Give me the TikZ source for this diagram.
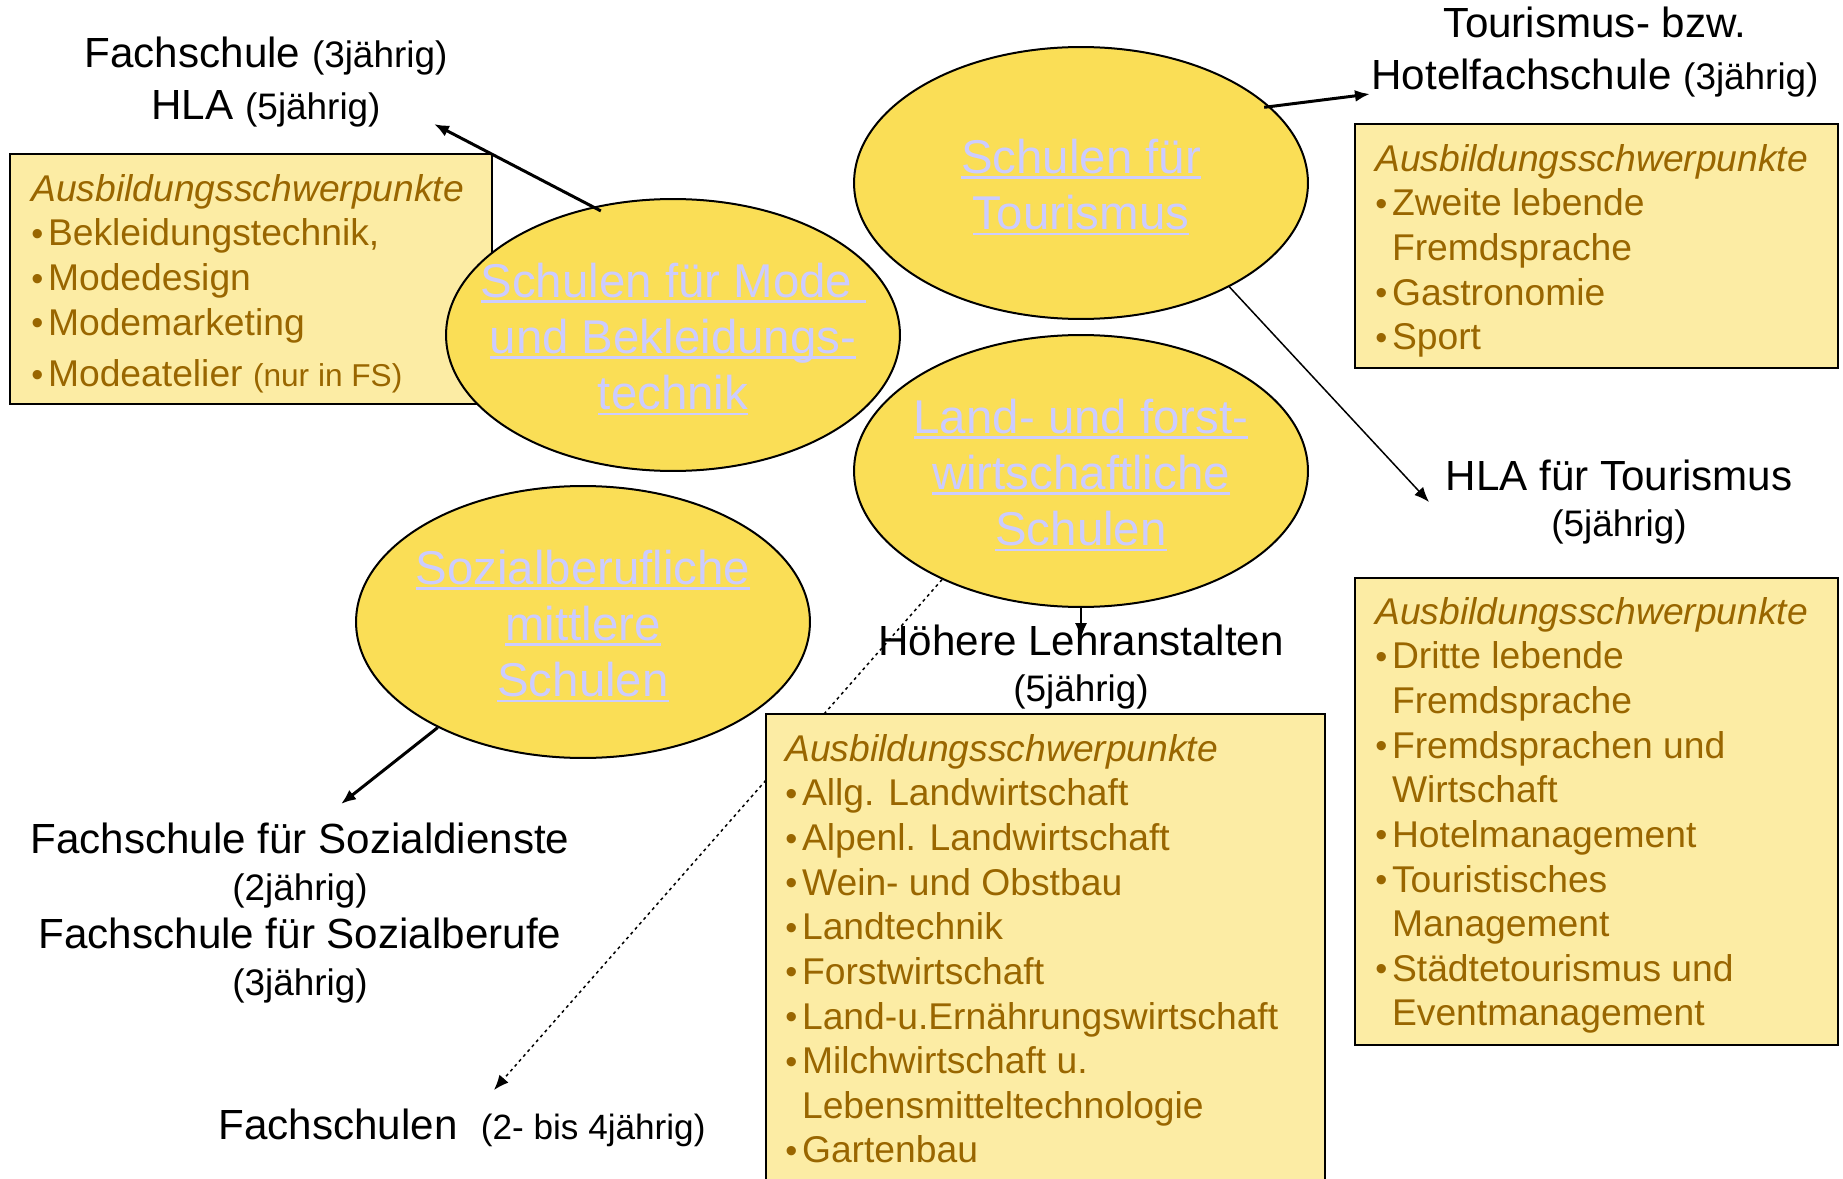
\documentclass[tikz,border=0pt]{standalone}
\usepackage{fontspec}
\setmainfont{Liberation Sans}
\usepackage{xcolor}
\usepackage{graphicx}
\usepackage{tikz}
\usetikzlibrary{shapes,arrows.meta,calc}

\definecolor{ellYellow}{RGB}{250,222,86}
\definecolor{boxYellow}{RGB}{252,236,164}
\definecolor{txtBrown}{RGB}{153,102,0}
\definecolor{linkLav}{RGB}{204,204,255}

\newcommand\pkt{\makebox[9.5pt][l]{\raisebox{0.3pt}{\scalebox{0.92}{\textbullet}}}}
\newcommand\fort{\hspace*{9.5pt}}
\newcommand\lnk[1]{\setbox0\hbox{#1}\rlap{\rule[-0.12em]{\wd0}{0.055em}}\box0}
\newcommand\klein{\fontsize{21}{26}\selectfont}
\newcommand\kleiner{\fontsize{18}{22}\selectfont}

\tikzstyle{tsLabel} = [
    text=black,
    font=\fontsize{24}{29.6}\selectfont,
    align=center,
    inner sep=0pt
]
\tikzstyle{tsLink} = [
    text=linkLav,
    font=\fontsize{27}{32}\selectfont,
    align=center,
    inner sep=0pt
]
\tikzstyle{tsEllipse} = [
    ellipse,
    draw=black,
    line width=0.4mm,
    fill=ellYellow,
    minimum width=9.08cm,
    minimum height=5.44cm
]
\tikzstyle{tsRectangle} = [
    rectangle,
    draw=black,
    line width=0.4mm,
    fill=boxYellow,
    anchor=north west
]
\tikzstyle{tsList} = [
    text=txtBrown,
    font=\fontsize{21.2}{25.4}\selectfont,
    align=left,
    anchor=north west,
    inner sep=0pt
]
\tikzstyle{tsArrow} = [
    line width=0.6mm,
    -{Latex[length=3mm,width=2.4mm]}
]

\begin{document}
\begin{tikzpicture}[x=0.02cm, y=-0.02cm]

    \useasboundingbox (0,0) rectangle (1843,1179);

    % Mode
    \node[  tsRectangle,
            minimum width=9.64cm,
            minimum height=5cm] (boxMode) at (9,153) {};
    \node[tsList] (listMode) at (31,174) {\textit{Ausbildungsschwerpunkte}\\\pkt Bekleidungstechnik,\\\pkt Modedesign\\\pkt Modemarketing\\[4pt]\pkt Modeatelier {\kleiner(nur in FS)}};

    \node[tsEllipse] (mode) at (673,335) {};
    \node[tsLink] (modeText) at (673,339) {\lnk{Schulen für Mode\ }\\\lnk{und Bekleidungs-}\\\lnk{technik}};

    % Tourismus
    \node[tsEllipse] (tour) at (1081,183) {};
    \node[tsLink] (tourText) at (1081,187) {\lnk{Schulen für}\\\lnk{Tourismus}};

    \node[  tsRectangle,
            minimum width=9.66cm,
            minimum height=4.88cm] (boxTour) at (1354,123) {};
    \node[tsList] (listTour) at (1375,144) {\textit{Ausbildungsschwerpunkte}\\\pkt Zweite lebende\\\fort Fremdsprache\\\pkt Gastronomie\\\pkt Sport};

    \node[  tsRectangle,
            minimum width=9.66cm,
            minimum height=9.34cm] (boxHla) at (1354,577) {};
    \node[tsList] (listHla) at (1375,597) {\textit{Ausbildungsschwerpunkte}\\\pkt Dritte lebende\\\fort Fremdsprache\\\pkt Fremdsprachen und\\\fort Wirtschaft\\\pkt Hotelmanagement\\\pkt Touristisches\\\fort Management\\\pkt Städtetourismus und\\\fort Eventmanagement};

    % Land- und Forstwirtschaft
    \node[tsEllipse] (land) at (1081,471) {};
    \node[tsLink] (landText) at (1081,475) {\lnk{Land- und forst-}\\\lnk{wirtschaftliche}\\\lnk{Schulen}};

    % Sozialberufe
    \node[tsEllipse] (sozial) at (583,622) {};
    \node[tsLink] (sozialText) at (583,626) {\lnk{Sozialberufliche}\\\lnk{mittlere}\\\lnk{Schulen}};

    % Abschluesse
    \node[tsLabel] (fsMode) at (266,82) {Fachschule {\klein(3jährig)}\\HLA {\klein(5jährig)}};
    \node[tsLabel] (hotel) at (1595,52) {Tourismus- bzw.\\Hotelfachschule {\klein(3jährig)}};
    \node[tsLabel] (hlaTour) at (1619,502) {HLA für Tourismus\\[-3pt]{\klein(5jährig)}};
    \node[tsLabel] (hoehere) at (1081,667) {Höhere Lehranstalten\\[-3pt]{\klein(5jährig)}};
    \node[tsLabel] (fsSozial) at (300,913) {Fachschule für Sozialdienste\\[-3pt]{\klein(2jährig)}\\[-2pt]Fachschule für Sozialberufe\\[-3pt]{\klein(3jährig)}};
    \node[tsLabel] (fachschulen) at (462,1128) {Fachschulen\ \ {\fontsize{20}{24}\selectfont(2- bis 4jährig)}};

    \coordinate (tipMode) at (434,124);
    \coordinate (tipHotel) at (1370,94);
    \coordinate (tipHla) at (1429,502);
    \coordinate (tipHoehere) at (1081,638);
    \coordinate (tipSozial) at (341,804);
    \coordinate (tipFach) at (494,1090);

    \draw[tsArrow, dotted, line width=0.3mm] (land.-142) -- (tipFach);

    \node[  tsRectangle,
            minimum width=11.18cm,
            minimum height=9.8cm] (boxLand) at (765,713) {};
    \node[tsList] (listLand) at (785,734) {\textit{Ausbildungsschwerpunkte}\\\pkt Allg. Landwirtschaft\\\pkt Alpenl. Landwirtschaft\\\pkt Wein- und Obstbau\\\pkt Landtechnik\\\pkt Forstwirtschaft\\\pkt Land-u.Ernährungswirtschaft\\\pkt Milchwirtschaft u.\\\fort Lebensmitteltechnologie\\\pkt Gartenbau};

    \draw[tsArrow, shorten <=-0.18cm] (mode.122) -- (tipMode);
    \draw[tsArrow, shorten <=-0.12cm] (tour.22) -- (tipHotel);
    \draw[tsArrow, line width=0.3mm] (tour.-35) -- (tipHla);
    \draw[tsArrow, line width=0.25mm] (land.south) -- (tipHoehere);
    \draw[tsArrow] (sozial.-144) -- (tipSozial);

\end{tikzpicture}
\end{document}
